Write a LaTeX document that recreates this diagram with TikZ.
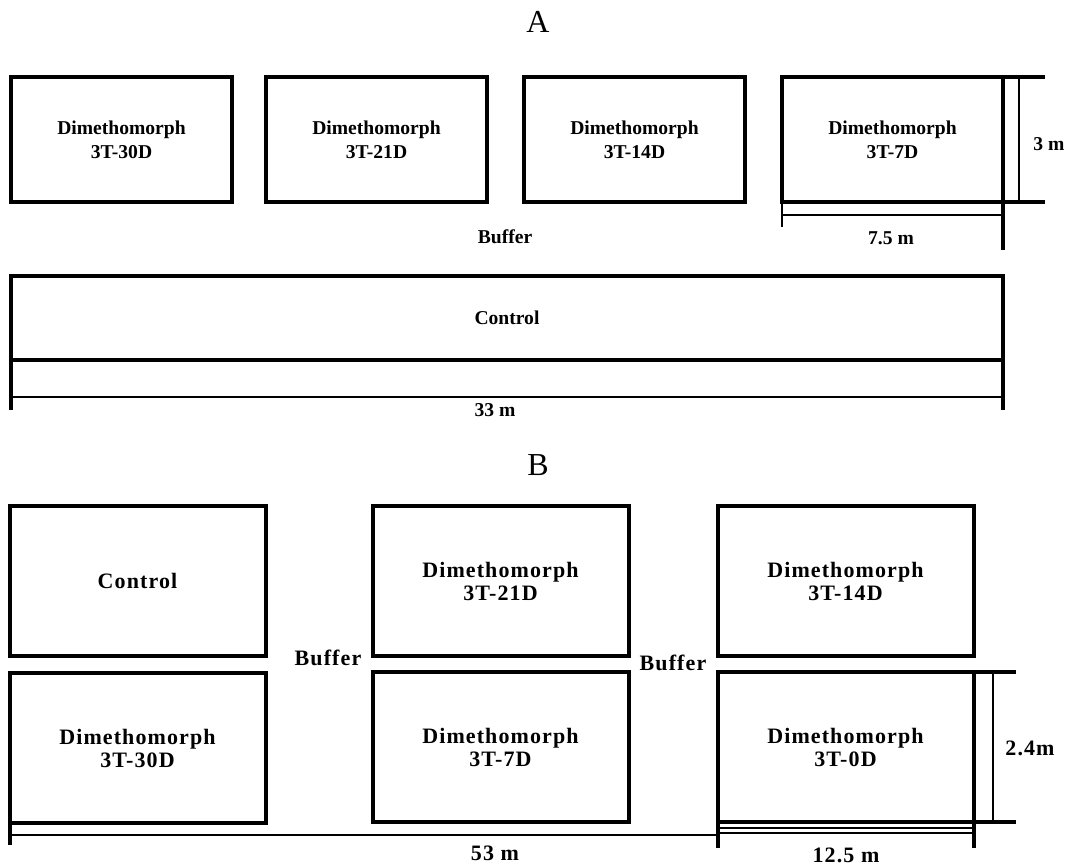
\documentclass[tikz,border=0pt]{standalone}
\usepackage{fontspec}
\setmainfont{Liberation Serif}
\newfontfamily\widefont{Liberation Serif}[LetterSpace=5]
\usetikzlibrary{positioning}

\tikzset{
	plot/.style = {draw, line width = 2pt, minimum width = 0.5pt*#1, inner sep = 0pt, outer sep = 0pt,
		font = \bfseries\fontsize{9.8}{12}\selectfont, align = center},
	plotA/.style = {plot = 221, minimum height = 62.5pt},
	plotB/.style = {plot = 256, minimum height = 75pt, font = \widefont\bfseries\fontsize{11}{11.5}\selectfont},
	wall/.style = {line width = 2pt},
	dim/.style = {line width = 0.75pt},
	lbl/.style = {font = \bfseries\fontsize{9.8}{12}\selectfont, inner sep = 0pt},
	lblB/.style = {font = \widefont\bfseries\fontsize{11}{12}\selectfont, inner sep = 0pt},
	ttl/.style = {font = \fontsize{16}{18}\selectfont, inner sep = 0pt}
}

\begin{document}
\begin{tikzpicture}[x = 0.5pt, y = -0.5pt]
	\useasboundingbox (0,0) rectangle (1066,865);

	% layout A
	\node[ttl] (titleA) at (538,22) {A};
	\node[plotA] (a30) at (121.5,139.5) {Dimethomorph\\3T-30D};
	\node[plotA] (a21) at (376.5,139.5) {Dimethomorph\\3T-21D};
	\node[plotA] (a14) at (634.5,139.5) {Dimethomorph\\3T-14D};
	\node[plotA] (a7)  at (892.5,139.5) {Dimethomorph\\3T-7D};
	\node[lbl] (bufA) at (505,237) {Buffer};
	\node[plot = 992, minimum height = 42pt] (ctlA) at (507,318) {Control};

	\draw[wall] (a7.north east) -- ++(42,0);
	\draw[wall] (a7.south east) -- ++(42,0);
	\draw[dim] (1019,77) -- (1019,202);
	\node[lbl] (hA) at (1049,144) {3 m};
	\draw[wall] (a7.south east) -- ++(0,48);
	\draw[dim] (a7.south west) -- ++(0,25);
	\draw[dim] (782,215) -- (1001,215);
	\node[lbl] (wA) at (891,238) {7.5 m};

	\draw[wall] (ctlA.south west) -- ++(0,50);
	\draw[wall] (ctlA.south east) -- ++(0,50);
	\draw[dim] (11,397) -- (1001,397);
	\node[lbl] (lenA) at (495,410) {33 m};

	% layout B
	\node[ttl] (titleB) at (538,465) {B};
	\node[plotB] (ctlB) at (137.5,581) {Control};
	\node[plotB] (b30)  at (137.5,748) {Dimethomorph\\3T-30D};
	\node[plotB] (b21)  at (500.5,581) {Dimethomorph\\3T-21D};
	\node[plotB] (b7)   at (500.5,747) {Dimethomorph\\3T-7D};
	\node[plotB] (b14)  at (845.5,581) {Dimethomorph\\3T-14D};
	\node[plotB] (b0)   at (845.5,747) {Dimethomorph\\3T-0D};
	\node[lblB] (bufB1) at (328,658) {Buffer};
	\node[lblB] (bufB2) at (673,663) {Buffer};

	\draw[wall] (b0.north east) -- ++(42,0);
	\draw[wall] (b0.south east) -- ++(42,0);
	\draw[dim] (993,672) -- (993,822);
	\node[lblB] (hB) at (1030,748) {2.4m};
	\draw[wall] (b0.south west) -- ++(0,26);
	\draw[wall] (b0.south east) -- ++(0,26);
	\draw[dim] (718,828) -- (973,828);
	\draw[dim] (718,833) -- (973,833);
	\node[lblB] (wB) at (846,855) {12.5 m};

	\draw[wall] (b30.south west) -- ++(0,22);
	\draw[dim] (9,835) -- (718,835);
	\node[lblB] (lenB) at (495,853) {53 m};
\end{tikzpicture}
\end{document}
